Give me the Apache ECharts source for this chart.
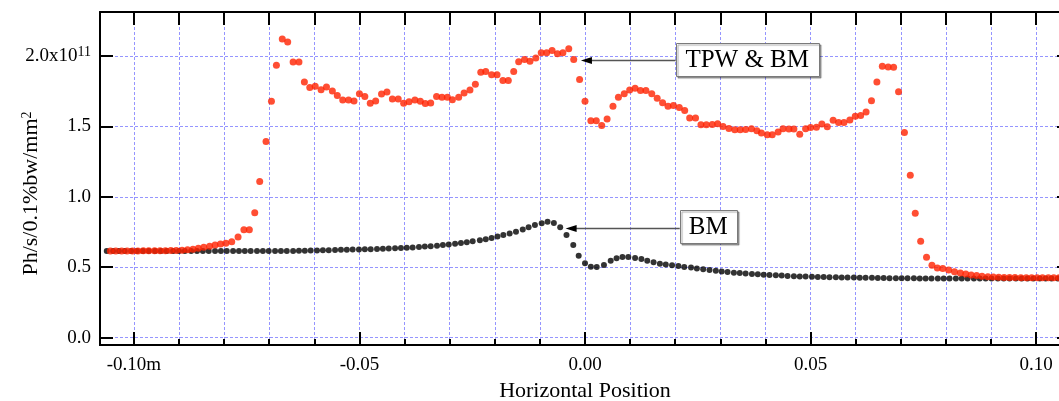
<!DOCTYPE html>
<html><head><meta charset="utf-8">
<script src="https://cdn.jsdelivr.net/npm/echarts@6/dist/echarts.min.js"></script>
<style>html,body{margin:0;padding:0;background:#fff}#c{width:1059px;height:401px}</style>
</head><body><div id="c"></div>
<script>
// BM series (black)
const bmX = [
-0.1060,-0.1046,-0.1033,-0.1020,-0.1006,-0.0993,-0.0980,-0.0967,-0.0953,-0.0940,
-0.0927,-0.0913,-0.0900,-0.0887,-0.0873,-0.0860,-0.0847,-0.0834,-0.0820,-0.0807,
-0.0794,-0.0780,-0.0767,-0.0754,-0.0741,-0.0727,-0.0714,-0.0701,-0.0687,-0.0674,
-0.0661,-0.0647,-0.0634,-0.0621,-0.0608,-0.0594,-0.0581,-0.0568,-0.0554,-0.0541,
-0.0528,-0.0515,-0.0501,-0.0488,-0.0475,-0.0461,-0.0448,-0.0435,-0.0421,-0.0408,
-0.0395,-0.0382,-0.0368,-0.0355,-0.0342,-0.0328,-0.0315,-0.0302,-0.0288,-0.0275,
-0.0262,-0.0249,-0.0233,-0.0220,-0.0207,-0.0194,-0.0181,-0.0167,-0.0153,-0.0138,
-0.0125,-0.0111,-0.0096,-0.0083,-0.0069,-0.0055,-0.0041,-0.0026,-0.0014,0.0000,
0.0013,0.0026,0.0042,0.0057,0.0070,0.0083,0.0096,0.0111,0.0125,0.0138,
0.0152,0.0166,0.0179,0.0193,0.0207,0.0220,0.0235,0.0248,0.0262,0.0276,
0.0290,0.0303,0.0316,0.0330,0.0343,0.0356,0.0370,0.0383,0.0396,0.0409,
0.0423,0.0436,0.0449,0.0463,0.0476,0.0489,0.0503,0.0516,0.0529,0.0542,
0.0556,0.0569,0.0582,0.0596,0.0609,0.0622,0.0636,0.0649,0.0662,0.0675,
0.0689,0.0702,0.0715,0.0729,0.0742,0.0755,0.0768,0.0782,0.0795,0.0808,
0.0822,0.0835,0.0848,0.0862,0.0875,0.0888,0.0901,0.0915,0.0928,0.0941,
0.0955,0.0968,0.0981,0.0994,0.1008,0.1021,0.1034,0.1048
];
const bmY = [
0.615,0.615,0.615,0.615,0.615,0.615,0.615,0.615,0.615,0.615,
0.615,0.615,0.615,0.615,0.615,0.615,0.615,0.615,0.615,0.615,
0.615,0.615,0.615,0.615,0.615,0.615,0.615,0.615,0.615,0.615,
0.615,0.615,0.616,0.617,0.618,0.619,0.620,0.621,0.622,0.623,
0.624,0.625,0.626,0.627,0.628,0.629,0.631,0.632,0.634,0.636,
0.638,0.640,0.643,0.646,0.649,0.653,0.657,0.661,0.666,0.671,
0.677,0.684,0.691,0.699,0.708,0.718,0.728,0.740,0.752,0.767,
0.784,0.799,0.812,0.822,0.814,0.784,0.729,0.657,0.581,0.527,
0.503,0.501,0.515,0.546,0.563,0.573,0.572,0.565,0.558,0.545,
0.535,0.525,0.519,0.513,0.508,0.502,0.497,0.491,0.485,0.479,
0.474,0.469,0.465,0.461,0.458,0.455,0.452,0.449,0.446,0.444,
0.442,0.440,0.438,0.436,0.434,0.433,0.432,0.431,0.430,0.429,
0.428,0.427,0.426,0.426,0.425,0.424,0.424,0.423,0.423,0.422,
0.422,0.421,0.421,0.421,0.420,0.420,0.420,0.420,0.420,0.420,
0.420,0.420,0.420,0.420,0.420,0.420,0.420,0.420,0.420,0.420,
0.420,0.420,0.420,0.420,0.420,0.420,0.420,0.420
];
// TPW & BM series (red)
const tpwX = [
-0.1052,-0.1040,-0.1027,-0.1015,-0.1003,-0.0991,-0.0979,-0.0967,-0.0954,-0.0942,
-0.0930,-0.0918,-0.0906,-0.0893,-0.0881,-0.0869,-0.0857,-0.0845,-0.0832,-0.0820,
-0.0808,-0.0796,-0.0783,-0.0769,-0.0756,-0.0744,-0.0732,-0.0721,-0.0707,-0.0695,
-0.0684,-0.0671,-0.0659,-0.0647,-0.0634,-0.0622,-0.0610,-0.0598,-0.0585,-0.0573,
-0.0560,-0.0549,-0.0537,-0.0524,-0.0512,-0.0500,-0.0488,-0.0476,-0.0464,-0.0451,
-0.0439,-0.0427,-0.0414,-0.0402,-0.0390,-0.0377,-0.0365,-0.0354,-0.0342,-0.0329,
-0.0317,-0.0305,-0.0294,-0.0280,-0.0268,-0.0255,-0.0243,-0.0231,-0.0220,-0.0207,
-0.0195,-0.0182,-0.0170,-0.0158,-0.0147,-0.0134,-0.0122,-0.0109,-0.0097,-0.0085,
-0.0073,-0.0061,-0.0049,-0.0036,-0.0025,-0.0012,0.0000,0.0013,0.0025,0.0037,
0.0049,0.0062,0.0074,0.0087,0.0099,0.0111,0.0123,0.0135,0.0148,0.0160,
0.0172,0.0184,0.0196,0.0209,0.0221,0.0232,0.0245,0.0257,0.0269,0.0282,
0.0294,0.0306,0.0319,0.0332,0.0344,0.0356,0.0369,0.0381,0.0391,0.0404,
0.0415,0.0428,0.0439,0.0452,0.0463,0.0476,0.0489,0.0500,0.0513,0.0525,
0.0537,0.0550,0.0562,0.0574,0.0587,0.0599,0.0611,0.0623,0.0635,0.0647,
0.0659,0.0672,0.0684,0.0695,0.0708,0.0721,0.0732,0.0744,0.0757,0.0769,
0.0781,0.0793,0.0806,0.0819,0.0832,0.0844,0.0856,0.0868,0.0880,0.0893,
0.0905,0.0917,0.0929,0.0941,0.0953,0.0966,0.0978,0.0990,0.1002,0.1014,
0.1027,0.1039,0.1051
];
const tpwY = [
0.615,0.615,0.615,0.615,0.615,0.615,0.616,0.616,0.616,0.617,
0.617,0.618,0.619,0.621,0.624,0.628,0.634,0.641,0.649,0.657,
0.664,0.670,0.680,0.714,0.765,0.765,0.886,1.108,1.393,1.678,
1.934,2.122,2.099,1.958,1.958,1.816,1.776,1.785,1.761,1.781,
1.752,1.719,1.688,1.688,1.681,1.733,1.712,1.664,1.681,1.731,
1.745,1.695,1.695,1.664,1.676,1.688,1.678,1.662,1.667,1.712,
1.707,1.707,1.690,1.707,1.738,1.759,1.799,1.885,1.890,1.868,
1.868,1.826,1.826,1.890,1.959,1.975,1.963,1.987,2.023,2.023,
2.039,2.016,2.023,2.051,1.975,1.833,1.678,1.541,1.541,1.507,
1.553,1.643,1.707,1.733,1.759,1.771,1.756,1.756,1.733,1.700,
1.669,1.643,1.648,1.635,1.614,1.560,1.560,1.512,1.512,1.514,
1.519,1.500,1.486,1.477,1.476,1.479,1.484,1.470,1.453,1.440,
1.440,1.460,1.484,1.482,1.482,1.445,1.483,1.493,1.495,1.517,
1.497,1.543,1.528,1.528,1.546,1.573,1.577,1.602,1.683,1.815,
1.927,1.922,1.920,1.746,1.457,1.153,0.883,0.684,0.570,0.513,
0.494,0.491,0.479,0.467,0.458,0.451,0.445,0.440,0.436,0.432,
0.430,0.428,0.427,0.426,0.426,0.425,0.425,0.425,0.425,0.425,
0.425,0.425,0.425
];
const xTickValues = [-0.10, -0.05, 0.00, 0.05, 0.10];
const xTickLabels = ['-0.10m', '-0.05', '0.00', '0.05', '0.10'];
const yTickValues = [0.0, 0.5, 1.0, 1.5, 2.0];
const yTickLabels = ['0.0', '0.5', '1.0', '1.5', '2.0x10{s|11}'];
const seriesNames = ['BM', 'TPW & BM'];
const xName = 'Horizontal Position';
const yName = 'Ph/s/0.1%bw/mm{s|2}';
// annotations (data coordinates)
const annoLabels = ['TPW & BM', 'BM'];
const annoTips = [[-0.0009, 1.974], [-0.0043, 0.781]];
const annoBoxes = [[0.0201, 2.095, 0.0518, 1.860], [0.0210, 0.906, 0.0336, 0.669]];

const X_MIN = -0.1075, X_MAX = 0.1075, Y_MIN = -0.053, Y_MAX = 2.313;
const FONT = 'Liberation Serif';
const gridColor = '#9595ff';

function lookup(vals, labels, v) {
  for (let i = 0; i < vals.length; i++) if (Math.abs(vals[i] - v) < 1e-6) return labels[i];
  return '';
}

const chart = echarts.init(document.getElementById('c'), null, {renderer: 'canvas'});
const axisLine = {show: true, onZero: false, lineStyle: {color: '#000', width: 2}};
const tick = len => ({show: true, inside: true, length: len, lineStyle: {color: '#000', width: 2}});
const option = {
  animation: false,
  backgroundColor: '#fff',
  grid: {left: 100, right: -11, top: 12, bottom: 56, containLabel: false, outerBoundsMode: 'none'},
  xAxis: [
    {type: 'value', position: 'bottom', min: X_MIN, max: X_MAX, splitNumber: 21, minInterval: 0.01, maxInterval: 0.01,
     axisLine: axisLine, axisTick: tick(6), axisLabel: {show: false},
     splitLine: {show: true, lineStyle: {color: gridColor, type: [3, 2], width: 1}}},
    {type: 'value', position: 'bottom', min: X_MIN, max: X_MAX, splitNumber: 4, minInterval: 0.05, maxInterval: 0.05,
     axisLine: axisLine, axisTick: tick(13),
     axisLabel: {show: true, margin: 11, fontSize: 19, fontFamily: FONT, color: '#000',
       formatter: v => lookup(xTickValues, xTickLabels, v)},
     splitLine: {show: false},
     name: xName, nameLocation: 'middle', nameGap: 35, nameMoveOverlap: false,
     nameTextStyle: {fontSize: 22, fontFamily: FONT, color: '#000'}},
    {type: 'value', position: 'top', min: X_MIN, max: X_MAX, splitNumber: 21, minInterval: 0.01, maxInterval: 0.01,
     axisLine: axisLine, axisTick: tick(13), axisLabel: {show: false}, splitLine: {show: false}}
  ],
  yAxis: [
    {type: 'value', position: 'left', min: Y_MIN, max: Y_MAX, splitNumber: 5, minInterval: 0.5, maxInterval: 0.5,
     axisLine: axisLine, axisTick: tick(13),
     axisLabel: {show: true, margin: 9, fontSize: 19, fontFamily: FONT, color: '#000',
       formatter: v => lookup(yTickValues, yTickLabels, v),
       rich: {s: {fontSize: 14, fontFamily: FONT, color: '#000', verticalAlign: 'top', padding: [0, 0, 7, 0]}}},
     splitLine: {show: true, lineStyle: {color: gridColor, type: [3, 2], width: 1}},
     name: yName, nameLocation: 'middle', nameGap: 58, nameMoveOverlap: false,
     nameTextStyle: {fontSize: 22, fontFamily: FONT, color: '#000', padding: [0, 30, 0, 0],
       rich: {s: {fontSize: 14, fontFamily: FONT, color: '#000', verticalAlign: 'top', padding: [0, 0, 8, 0]}}}},
    {type: 'value', position: 'right', min: Y_MIN, max: Y_MAX, splitNumber: 5, minInterval: 0.5, maxInterval: 0.5,
     axisLine: axisLine, axisTick: tick(13), axisLabel: {show: false}, splitLine: {show: false}}
  ],
  series: [
    {name: seriesNames[0], type: 'scatter', xAxisIndex: 0, yAxisIndex: 0, symbol: 'circle', symbolSize: 6,
     itemStyle: {color: '#000'}, silent: true, z: 2,
     data: bmX.map((x, i) => [x, bmY[i]])},
    {name: seriesNames[1], type: 'scatter', xAxisIndex: 0, yAxisIndex: 0, symbol: 'circle', symbolSize: 7,
     itemStyle: {color: '#ff2200'}, silent: true, z: 3,
     data: tpwX.map((x, i) => [x, tpwY[i]])}
  ]
};
chart.setOption(option);

const toPx = p => chart.convertToPixel({xAxisIndex: 0, yAxisIndex: 0}, p);
const gfx = [];
annoLabels.forEach((lab, i) => {
  const tip = toPx(annoTips[i]);
  const tl = toPx([annoBoxes[i][0], annoBoxes[i][1]]);
  const br = toPx([annoBoxes[i][2], annoBoxes[i][3]]);
  const ty = Math.round(tip[1]) + 0.5;
  gfx.push({type: 'line', silent: true, z: 10,
    shape: {x1: tl[0], y1: ty, x2: tip[0] + 9, y2: ty},
    style: {stroke: '#555', lineWidth: 1.5}});
  gfx.push({type: 'polygon', silent: true, z: 11,
    shape: {points: [[tip[0], ty], [tip[0] + 11, ty - 3.5], [tip[0] + 11, ty + 3.5]]},
    style: {fill: '#000'}});
  gfx.push({type: 'rect', silent: true, z: 10,
    shape: {x: Math.round(tl[0]) + 0.5, y: Math.round(tl[1]) + 0.5, width: Math.round(br[0] - tl[0]), height: Math.round(br[1] - tl[1])},
    style: {fill: '#fff', stroke: '#7a7a7a', lineWidth: 1, shadowColor: 'rgba(0,0,0,0.35)', shadowOffsetX: 1.5, shadowOffsetY: 1.5, shadowBlur: 1}});
  gfx.push({type: 'text', silent: true, z: 12,
    x: (tl[0] + br[0]) / 2, y: (tl[1] + br[1]) / 2 + 1,
    style: {text: lab, font: '25px "' + FONT + '"', fill: '#000', align: 'center', verticalAlign: 'middle'}});
});
chart.setOption({graphic: gfx});
</script>
</body></html>
